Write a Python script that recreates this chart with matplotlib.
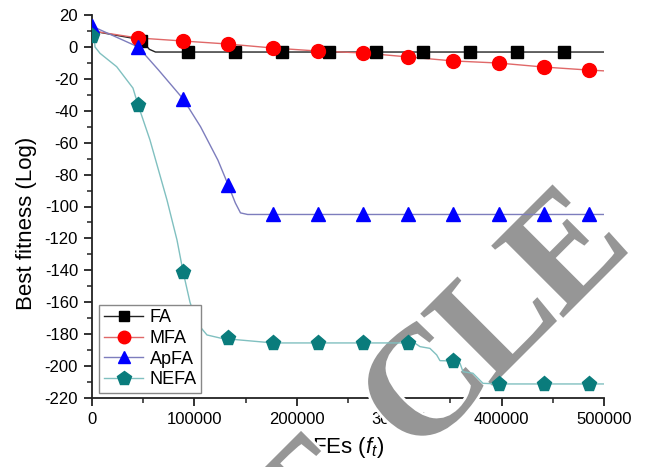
import matplotlib
matplotlib.use("Agg")
import matplotlib.pyplot as plt
import matplotlib.patheffects as pe
from matplotlib.ticker import MultipleLocator

plt.rcParams['font.family'] = ['Liberation Sans', 'DejaVu Sans']
plt.rcParams['mathtext.fontset'] = 'custom'
plt.rcParams['mathtext.it'] = 'Liberation Sans:italic'
plt.rcParams['mathtext.rm'] = 'Liberation Sans'

# ---- data ----
series_names = ["FA", "MFA", "ApFA", "NEFA"]

fa_line_x = [0, 48000, 52000, 56000, 62000, 500000]
fa_line_y = [10, 4.5, 1.5, -1.5, -3.2, -3.2]
fa_mark_x = [48000, 94000, 140000, 186000, 231000, 277000, 323000, 369000, 415000, 461000]
fa_mark_y = [4, -3.2, -3.2, -3.2, -3.2, -3.2, -3.2, -3.2, -3.2, -3.2]

mfa_line_x = [0, 45000, 89000, 133000, 177000, 221000, 265000, 309000, 353000, 397000, 441000, 485000, 500000]
mfa_line_y = [10, 5.6, 3.7, 1.8, -0.7, -2.6, -3.8, -6.3, -8.8, -10.1, -12.6, -14.5, -15]
mfa_mark_x = [45000, 89000, 133000, 177000, 221000, 265000, 309000, 353000, 397000, 441000, 485000]
mfa_mark_y = [5.6, 3.7, 1.8, -0.7, -2.6, -3.8, -6.3, -8.8, -10.1, -12.6, -14.5]

apfa_line_x = [0, 45000, 65000, 89000, 106000, 123000, 133000, 140000, 145000, 152000, 500000]
apfa_line_y = [13, 0, -14.5, -32.6, -50, -71, -86.5, -97.8, -104, -105, -105]
apfa_mark_x = [0, 45000, 89000, 133000, 177000, 221000, 265000, 309000, 353000, 397000, 441000, 485000]
apfa_mark_y = [13, 0, -32.6, -86.5, -105, -105, -105, -105, -105, -105, -105, -105]

nefa_line_x = [0, 2500, 2900, 7800, 24100, 40000, 45000, 56600, 73200, 83000, 89000, 95700,
               102500, 112300, 125000, 133000, 177000, 315000, 320300, 330000, 336600, 339800,
               353000, 359400, 362300, 372000, 381800, 397000, 500000]
nefa_line_y = [8, 4, 0, -4, -12.4, -25.8, -36.4, -58.3, -95.9, -121, -141, -160,
               -173, -180.5, -182.4, -183, -185.5, -185.5, -187.8, -188.9, -193, -196.6,
               -196.8, -198.3, -203.5, -204.5, -210.8, -211.2, -211.2]
nefa_mark_x = [0, 45000, 89000, 133000, 177000, 221000, 265000, 309000, 353000, 397000, 441000, 485000]
nefa_mark_y = [7, -36.4, -141, -182.4, -185.5, -185.5, -185.5, -185.5, -196.8, -211.2, -211.2, -211.2]

x_ticks = [0, 100000, 200000, 300000, 400000, 500000]
y_ticks = list(range(-220, 21, 20))

# visible part of the diagonal watermark
watermark_letters = ["T", "C", "L", "E"]

# ---- figure ----
W, H = 646, 467
fig = plt.figure(figsize=(W / 100, H / 100), dpi=100)
ax = fig.add_axes([92/W, 1-398/H, 512/W, 383/H])

styles = [
    dict(lc='#222222', mc='black', m='s', ms=8.5),
    dict(lc='#e06868', mc='#ff0000', m='o', ms=10),
    dict(lc='#7d7dbd', mc='#0000ff', m='^', ms=10),
    dict(lc='#80c0c0', mc='#0a7c7c', m='p', ms=11),
]
lines_xy = [(fa_line_x, fa_line_y), (mfa_line_x, mfa_line_y),
            (apfa_line_x, apfa_line_y), (nefa_line_x, nefa_line_y)]
marks_xy = [(fa_mark_x, fa_mark_y), (mfa_mark_x, mfa_mark_y),
            (apfa_mark_x, apfa_mark_y), (nefa_mark_x, nefa_mark_y)]

handles = []
for i, (name, st, (lx, ly), (mx, my)) in enumerate(zip(series_names, styles, lines_xy, marks_xy)):
    ax.plot(lx, ly, color=st['lc'], lw=1.0, zorder=4 + 0.1 * i)
    ax.plot(mx, my, ls='none', marker=st['m'], ms=st['ms'], color=st['mc'],
            markeredgecolor=st['mc'], zorder=6 + i)
    h, = ax.plot([], [], color=st['lc'], lw=1.0, marker=st['m'], ms=st['ms'] * 0.9,
                 markerfacecolor=st['mc'], markeredgecolor=st['mc'], label=name)
    handles.append(h)

ax.set_xlim(0, 500000)
ax.set_ylim(-220, 20)
ax.set_xticks(x_ticks)
ax.set_xticklabels([str(v) for v in x_ticks])
ax.set_yticks(y_ticks)
ax.set_yticklabels([str(v) for v in y_ticks])
ax.xaxis.set_minor_locator(MultipleLocator(50000))
ax.yaxis.set_minor_locator(MultipleLocator(10))
for s in ['top', 'right']:
    ax.spines[s].set_visible(False)
for s in ['left', 'bottom']:
    ax.spines[s].set_linewidth(1.3)
    ax.spines[s].set_color('#222222')
ax.tick_params(which='major', direction='out', length=6, width=1.3, color='#222222',
               labelsize=12, pad=4)
ax.tick_params(which='minor', direction='out', length=3.5, width=1.1, color='#222222')

ax.set_ylabel('Best fitness (Log)', fontsize=16)
ax.yaxis.set_label_coords(-0.108, 0.455)
ax.set_xlabel('FEs ($f_t$)', fontsize=16, labelpad=6)

leg = ax.legend(handles=handles, loc='lower left', bbox_to_anchor=(0.014, 0.014),
                fontsize=13, frameon=True, fancybox=False, framealpha=1,
                edgecolor='#888888', handlelength=2.2, handletextpad=0.35,
                labelspacing=0.2, borderpad=0.25, borderaxespad=0)
leg.get_frame().set_linewidth(1.0)
leg.set_zorder(20)

# watermark: letters placed individually along a 45-degree diagonal
letter_centers = [(300, 500), (418, 382), (489, 313), (560, 245)]
for ch, (cx, cy) in zip(watermark_letters, letter_centers):
    bx, by = cx + 38, cy + 38  # baseline centre (pixels, y down)
    ax.text(bx / W, 1 - by / H, ch, transform=fig.transFigure, fontsize=112,
            fontweight='bold', family=['Liberation Serif', 'DejaVu Serif'],
            color='#969696', rotation=45, rotation_mode='anchor', ha='center',
            va='baseline', zorder=3, clip_on=False,
            path_effects=[pe.withStroke(linewidth=4, foreground='white')])

fig.savefig('out.png', dpi=100)
